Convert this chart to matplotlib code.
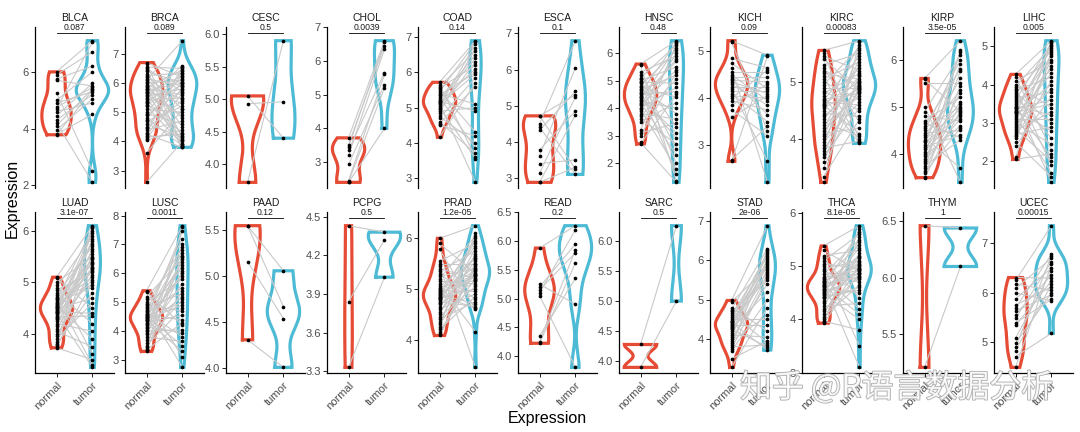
import numpy as np
import matplotlib
matplotlib.use("Agg")
import matplotlib.pyplot as plt
import matplotlib.patheffects as pe

plt.rcParams["font.family"] = ["Liberation Sans", "DejaVu Sans"]

NORMAL_RED = "#E64B35"
TUMOR_BLUE = "#4DBBD5"

# facet order, two rows of eleven
cancers = ["BLCA", "BRCA", "CESC", "CHOL", "COAD", "ESCA", "HNSC", "KICH", "KIRC", "KIRP", "LIHC",
           "LUAD", "LUSC", "PAAD", "PCPG", "PRAD", "READ", "SARC", "STAD", "THCA", "THYM", "UCEC"]
pvals = ["0.087", "0.089", "0.5", "0.0039", "0.14", "0.1", "0.48", "0.09", "0.00083", "3.5e-05", "0.005",
         "3.1e-07", "0.0011", "0.12", "0.5", "1.2e-05", "0.2", "0.5", "2e-06", "8.1e-05", "1", "0.00015"]
yticks = [["2", "4", "6"], ["3", "4", "5", "6", "7"], ["4.0", "4.5", "5.0", "5.5", "6.0"],
          ["3", "4", "5", "6", "7"], ["3", "4", "5", "6", "7"], ["3", "4", "5", "6", "7"],
          ["2", "3", "4", "5", "6"], ["3", "4", "5"], ["4", "5"], ["4", "5", "6"], ["2", "3", "4", "5"],
          ["4", "5", "6"], ["3", "4", "5", "6", "7", "8"], ["4.0", "4.5", "5.0", "5.5"],
          ["3.3", "3.6", "3.9", "4.2", "4.5"], ["4", "5", "6"], ["4.0", "4.5", "5.0", "5.5", "6.0", "6.5"],
          ["4.0", "4.5", "5.0", "5.5", "6.0"], ["4", "5", "6", "7"], ["3", "4", "5", "6"],
          ["5.5", "6.0", "6.5"], ["5", "6", "7"]]

# paired samples: normal[i] <-> tumor[i]
blca_n = [6.0, 5.9, 5.75, 5.7, 5.25, 5.0, 4.9, 4.75, 4.7, 4.6, 4.45, 4.3, 4.2, 4.1, 3.95, 3.8, 3.78]
blca_t = [7.1, 6.7, 6.2, 5.5, 2.5, 6.0, 5.3, 5.45, 7.05, 4.9, 5.6, 5.2, 2.1, 5.4, 5.05, 4.5, 5.35]

brca_n = [6.7, 6.65, 6.55, 6.5, 6.45, 6.4, 6.3, 6.25, 6.2, 6.15, 6.1, 6.05, 6.0, 5.95, 5.9, 5.85, 5.8,
          5.8, 5.75, 5.7, 5.7, 5.65, 5.6, 5.55, 5.5, 5.45, 5.4, 5.35, 5.3, 5.25, 5.2, 5.1, 5.0, 4.95,
          4.9, 4.8, 4.75, 4.7, 4.6, 4.5, 4.45, 4.4, 4.3, 4.25, 4.2, 4.15, 4.1, 4.05, 3.6, 2.6]
brca_t = [6.2, 4.1, 6.5, 5.7, 3.9, 6.0, 5.1, 6.35, 4.5, 5.9, 7.45, 3.85, 6.1, 5.45, 4.8, 6.45, 5.6,
          4.2, 6.0, 5.3, 3.8, 6.25, 4.9, 5.8, 6.6, 4.05, 5.5, 6.15, 4.3, 5.95, 3.9, 5.0, 6.4, 4.6,
          5.75, 3.85, 6.3, 5.2, 4.15, 6.05, 5.4, 4.7, 6.55, 3.8, 5.85, 4.25, 5.65, 4.4, 5.1, 4.0]

cesc_n = [5.05, 4.93, 3.72]
cesc_t = [4.4, 4.96, 5.9]

chol_n = [3.72, 3.52, 3.45, 3.35, 3.2, 2.93, 2.45, 2.42, 2.4]
chol_t = [6.6, 6.45, 6.55, 5.65, 6.35, 5.3, 5.6, 5.2, 4.0]

coad_n = [5.72, 5.65, 5.6, 5.55, 5.5, 5.45, 5.4, 5.35, 5.3, 5.25, 5.2, 5.18, 5.15, 5.12, 5.1, 5.05,
          5.0, 4.95, 4.9, 4.85, 4.75, 4.7, 4.6, 4.55, 4.5, 4.17]
coad_t = [6.9, 3.6, 6.6, 6.2, 4.3, 6.85, 5.1, 6.0, 3.85, 6.5, 6.4, 4.9, 6.1, 2.88, 5.95, 6.8, 3.55,
          6.3, 5.0, 6.7, 4.0, 5.85, 3.7, 5.6, 4.2, 5.7]

esca_n = [4.72, 4.72, 4.5, 4.4, 4.32, 3.78, 3.62, 3.4, 3.13, 2.88, 2.88]
esca_t = [5.3, 3.25, 6.8, 3.1, 5.4, 4.85, 6.05, 3.5, 5.25, 4.75, 3.3]

hnsc_n = [5.6, 5.55, 5.3, 5.2, 5.1, 5.05, 5.0, 4.95, 4.9, 4.8, 4.75, 4.7, 4.65, 4.6, 4.55, 4.5, 4.45,
          4.4, 4.35, 4.3, 4.25, 4.2, 4.1, 4.0, 3.95, 3.9, 3.8, 3.7, 3.6, 3.5, 3.2, 3.1, 3.0, 2.75,
          2.7, 4.15]
hnsc_t = [6.45, 1.35, 5.9, 3.3, 6.3, 2.5, 5.5, 4.9, 2.0, 6.1, 4.4, 3.8, 5.2, 1.6, 6.4, 4.6, 2.9, 5.7,
          3.1, 6.2, 4.0, 2.3, 5.4, 4.75, 1.8, 6.0, 3.6, 5.05, 2.7, 4.2, 6.35, 3.45, 5.3, 1.3, 4.5, 5.8]

kich_n = [5.23, 5.2, 4.85, 4.75, 4.65, 4.55, 4.5, 4.45, 4.4, 4.38, 4.35, 4.3, 4.25, 4.2, 4.15, 4.1,
          4.05, 4.0, 3.95, 3.85, 3.75, 3.6, 2.68, 2.65]
kich_t = [4.92, 3.3, 4.65, 4.2, 2.2, 4.55, 3.95, 4.45, 3.65, 4.35, 4.1, 3.85, 4.25, 2.65, 4.15, 3.5,
          4.0, 4.6, 3.75, 4.3, 3.2, 4.05, 3.4, 4.9]

kirc_n = [5.55, 5.5, 5.45, 5.4, 5.3, 5.25, 5.2, 5.15, 5.1, 5.05, 5.0, 4.95, 4.9, 4.85, 4.8, 4.75, 4.7,
          4.68, 4.65, 4.62, 4.6, 4.58, 4.55, 4.5, 4.45, 4.4, 4.35, 4.3, 4.25, 4.2, 4.15, 4.1, 4.05,
          4.0, 3.95, 3.9, 3.85, 3.8, 3.75, 3.7, 3.6, 3.5, 3.35, 3.25]
kirc_t = [5.72, 4.0, 5.2, 4.85, 5.5, 4.3, 4.95, 5.05, 3.95, 5.35, 4.7, 5.6, 4.9, 4.5, 5.15, 3.93,
          4.8, 5.45, 4.6, 5.0, 4.1, 5.25, 4.88, 5.65, 4.4, 4.92, 5.1, 4.05, 4.75, 5.3, 4.82, 4.2,
          5.4, 4.98, 4.65, 5.55, 3.97, 4.87, 5.02, 4.55, 5.12, 4.93, 4.35, 5.7]

kirp_n = [5.6, 5.58, 5.5, 5.0, 4.9, 4.8, 4.7, 4.65, 4.6, 4.55, 4.5, 4.45, 4.4, 4.35, 4.3, 4.28, 4.25,
          4.2, 4.15, 4.1, 4.05, 4.0, 3.95, 3.9, 3.85, 3.8, 3.75, 3.7, 3.65, 3.6, 3.52, 3.5]
kirp_t = [6.4, 4.9, 5.5, 3.4, 6.1, 4.7, 5.2, 4.35, 5.8, 5.0, 6.0, 4.5, 5.35, 3.7, 4.95, 5.6, 4.8,
          6.15, 4.4, 5.1, 4.85, 5.9, 4.6, 5.3, 4.75, 5.75, 4.3, 5.05, 6.2, 4.55, 5.45, 4.92]

lihc_n = [4.27, 4.2, 4.1, 4.0, 3.95, 3.9, 3.85, 3.8, 3.75, 3.7, 3.65, 3.6, 3.55, 3.5, 3.45, 3.42, 3.4,
          3.38, 3.35, 3.32, 3.3, 3.28, 3.25, 3.2, 3.15, 3.1, 3.05, 3.0, 2.95, 2.9, 2.85, 2.8, 2.75,
          2.7, 2.65, 2.6, 2.5, 2.4, 2.1, 2.05]
lihc_t = [5.15, 2.3, 4.6, 3.4, 5.0, 1.9, 4.2, 3.0, 4.9, 2.6, 3.8, 5.1, 1.45, 4.4, 3.2, 4.75, 2.1, 3.6,
          4.95, 2.8, 4.0, 3.5, 5.05, 1.7, 4.3, 3.1, 4.8, 2.45, 3.9, 4.5, 2.0, 3.3, 4.65, 2.9, 4.1,
          5.12, 1.6, 3.7, 4.85, 2.2]

luad_n = [5.1, 5.08, 5.0, 4.95, 4.9, 4.85, 4.8, 4.75, 4.72, 4.7, 4.65, 4.62, 4.6, 4.57, 4.55, 4.52,
          4.5, 4.48, 4.45, 4.42, 4.4, 4.38, 4.35, 4.32, 4.3, 4.25, 4.2, 4.15, 4.1, 4.05, 4.0, 3.95,
          3.9, 3.85, 3.8, 3.78, 3.75, 3.73, 4.58, 4.47, 4.43, 4.53, 4.68, 4.28]
luad_t = [6.1, 4.5, 5.5, 3.6, 5.9, 5.2, 4.2, 5.7, 5.35, 3.4, 6.05, 4.9, 5.45, 5.1, 3.9, 5.8, 5.25,
          4.7, 6.0, 5.4, 3.35, 5.6, 5.3, 4.35, 5.95, 5.05, 4.05, 5.65, 5.15, 3.75, 5.85, 5.28, 4.6,
          5.55, 4.8, 6.08, 5.0, 3.5, 5.75, 5.38, 4.4, 5.22, 4.95, 5.48]

lusc_n = [5.4, 5.35, 5.2, 5.1, 5.0, 4.95, 4.9, 4.85, 4.8, 4.75, 4.7, 4.65, 4.6, 4.58, 4.55, 4.52, 4.5,
          4.48, 4.45, 4.42, 4.4, 4.38, 4.35, 4.3, 4.25, 4.2, 4.15, 4.1, 4.05, 4.0, 3.95, 3.9, 3.8,
          3.7, 3.6, 3.5, 3.45, 3.4, 3.35, 3.3]
lusc_t = [7.65, 4.2, 6.5, 3.1, 5.8, 6.9, 4.7, 5.3, 2.75, 6.2, 7.2, 3.8, 5.5, 6.7, 4.4, 5.0, 3.5, 6.4,
          7.45, 4.9, 5.9, 3.3, 6.0, 4.55, 6.8, 5.2, 3.95, 6.3, 7.0, 4.05, 5.65, 6.55, 3.65, 5.1, 6.1,
          4.8, 5.4, 7.6, 4.3, 6.6]

paad_n = [5.55, 5.55, 5.16, 4.31]
paad_t = [5.06, 4.67, 4.54, 4.01]

pcpg_n = [4.43, 3.84, 3.33]
pcpg_t = [4.38, 4.32, 4.03]

prad_n = [6.0, 5.9, 5.78, 5.55, 5.5, 5.45, 5.4, 5.35, 5.3, 5.25, 5.2, 5.15, 5.1, 5.05, 5.0, 4.97,
          4.95, 4.92, 4.9, 4.88, 4.85, 4.82, 4.8, 4.78, 4.75, 4.72, 4.7, 4.65, 4.6, 4.55, 4.5, 4.45,
          4.4, 4.35, 4.3, 4.25, 4.2, 4.15, 4.1, 4.08, 4.87, 4.93, 4.83, 5.02]
prad_t = [6.25, 5.3, 4.6, 5.9, 5.5, 3.45, 5.2, 5.75, 4.8, 5.4, 6.05, 5.1, 4.15, 5.6, 5.35, 4.95,
          5.85, 5.25, 4.7, 5.45, 6.0, 5.0, 5.65, 5.28, 4.65, 5.95, 5.15, 5.55, 4.9, 5.38, 5.8, 5.05,
          4.75, 5.7, 5.32, 6.1, 4.85, 5.22, 5.5, 5.42, 4.62, 5.18, 5.62, 5.27]

read_n = [5.88, 5.25, 5.2, 5.15, 5.1, 5.05, 4.35, 4.25, 4.22]
read_t = [6.27, 4.9, 5.95, 5.8, 6.2, 3.8, 5.35, 5.85, 5.62]

sarc_n = [4.28, 3.9]
sarc_t = [6.25, 5.0]

stad_n = [4.98, 4.95, 4.8, 4.75, 4.7, 4.65, 4.6, 4.55, 4.5, 4.47, 4.45, 4.42, 4.4, 4.38, 4.35, 4.32,
          4.3, 4.27, 4.25, 4.2, 4.15, 4.1, 4.05, 4.0, 3.95, 3.9, 3.85, 3.8, 3.75, 3.7, 3.5, 3.28]
stad_t = [6.88, 5.8, 4.2, 6.3, 5.5, 3.9, 6.1, 5.9, 4.5, 6.2, 5.7, 3.72, 6.0, 5.6, 4.35, 5.85, 6.15,
          5.2, 3.8, 5.95, 5.75, 4.05, 6.25, 5.4, 4.6, 5.65, 6.05, 3.85, 5.55, 5.0, 3.95, 4.8]

thca_n = [5.38, 5.3, 5.2, 5.15, 5.1, 5.05, 5.0, 4.95, 4.9, 4.85, 4.8, 4.78, 4.75, 4.72, 4.7, 4.68,
          4.65, 4.62, 4.6, 4.58, 4.55, 4.52, 4.5, 4.48, 4.45, 4.42, 4.4, 4.35, 4.3, 4.25, 4.2, 4.15,
          4.1, 4.05, 4.0, 3.97, 3.95, 3.93, 4.63, 4.57, 4.67, 4.53, 4.73, 4.43]
thca_t = [5.76, 4.9, 5.3, 4.4, 5.6, 4.95, 3.5, 5.1, 4.7, 5.5, 4.85, 4.2, 5.4, 5.0, 3.1, 5.2, 4.8,
          5.65, 4.92, 4.5, 5.05, 4.75, 5.35, 4.0, 4.88, 5.15, 4.6, 5.45, 4.97, 4.3, 5.7, 4.82, 5.25,
          4.65, 5.02, 3.8, 5.55, 4.87, 4.1, 5.08, 4.78, 5.18, 4.94, 4.55]

thym_n = [6.46, 5.21]
thym_t = [6.44, 6.1]

ucec_n = [6.31, 6.25, 6.18, 6.09, 6.0, 5.88, 5.75, 5.69, 5.63, 5.56, 5.48, 5.39, 5.34, 5.08, 4.98,
          4.9, 4.83, 4.71, 4.49]
ucec_t = [6.3, 7.36, 6.05, 6.7, 5.84, 6.5, 6.12, 6.78, 5.96, 6.36, 6.63, 5.87, 6.24, 6.44, 6.0,
          6.75, 6.17, 5.18, 6.58]

normal = dict(zip(cancers, [blca_n, brca_n, cesc_n, chol_n, coad_n, esca_n, hnsc_n, kich_n, kirc_n,
                            kirp_n, lihc_n, luad_n, lusc_n, paad_n, pcpg_n, prad_n, read_n, sarc_n,
                            stad_n, thca_n, thym_n, ucec_n]))
tumor = dict(zip(cancers, [blca_t, brca_t, cesc_t, chol_t, coad_t, esca_t, hnsc_t, kich_t, kirc_t,
                           kirp_t, lihc_t, luad_t, lusc_t, paad_t, pcpg_t, prad_t, read_t, sarc_t,
                           stad_t, thca_t, thym_t, ucec_t]))


def density(vals, n_grid=512):
    """gaussian KDE with R's bw.nrd0, trimmed to the data range (like geom_violin)"""
    v = np.asarray(vals, float)
    n = len(v)
    sd = v.std(ddof=1)
    q75, q25 = np.percentile(v, [75, 25])
    lo = min(sd, (q75 - q25) / 1.34)
    if lo <= 0:
        lo = sd if sd > 0 else 1.0
    bw = 0.9 * lo * n ** -0.2
    y = np.linspace(v.min(), v.max(), n_grid)
    d = np.exp(-0.5 * ((y[:, None] - v[None, :]) / bw) ** 2).sum(axis=1) / (n * bw * np.sqrt(2 * np.pi))
    return y, d


def draw_panel(ax, name, pval, ticks, bottom_row):
    nv, tv = normal[name], tumor[name]
    dens = [density(nv), density(tv)]
    dmax = max(d.max() for _, d in dens)   # scale="area": shared max within a panel
    for k, ((y, d), col) in enumerate(zip(dens, [NORMAL_RED, TUMOR_BLUE])):
        x0 = k + 1
        w = d / dmax * 0.45
        xs = np.concatenate([x0 - w, (x0 + w)[::-1], [x0 - w[0]]])
        ys = np.concatenate([y, y[::-1], [y[0]]])
        ax.plot(xs, ys, color=col, lw=2.3, solid_joinstyle="miter", zorder=1)
    for a, b in zip(nv, tv):
        ax.plot([1, 2], [a, b], color="#C9C9C9", lw=0.8, zorder=2)
    ax.scatter(np.ones(len(nv)), nv, s=7, c="black", linewidths=0, zorder=3)
    ax.scatter(np.full(len(tv), 2), tv, s=7, c="black", linewidths=0, zorder=3)

    # bracket + p-value above the data
    lo, hi = min(min(nv), min(tv)), max(max(nv), max(tv))
    span = (hi - lo) / 0.88
    yb = hi + 0.05 * span
    ax.plot([1, 2], [yb, yb], color="black", lw=0.6, zorder=4)
    ax.text(1.5, yb + 0.004 * span, pval, ha="center", va="bottom", fontsize=6.2, color="#1A1A1A")
    ax.set_ylim(lo - 0.035 * span, hi + 0.085 * span)
    ax.set_xlim(0.4, 2.6)

    ax.set_yticks([float(t) for t in ticks])
    ax.set_yticklabels(ticks)
    ax.tick_params(axis="y", length=3, width=0.6, colors="black", labelcolor="#4D4D4D",
                   labelsize=8, pad=1.5)
    for s in ("top", "right"):
        ax.spines[s].set_visible(False)
    ax.spines["left"].set_linewidth(0.9)
    if bottom_row:
        ax.set_xticks([1, 2])
        ax.set_xticklabels(["normal", "tumor"], rotation=45, ha="right", va="top",
                           rotation_mode="anchor")
        ax.tick_params(axis="x", length=3, width=0.6, labelcolor="#4D4D4D", labelsize=8, pad=2)
        ax.spines["bottom"].set_linewidth(0.9)
    else:
        ax.set_xticks([])
        ax.spines["bottom"].set_visible(False)
    ax.set_title(name, fontsize=7.5, pad=4.5, color="#1A1A1A")


fig = plt.figure(figsize=(10.8, 4.32), dpi=100)
W, H = 1080.0, 432.0
lefts = [35, 125, 226, 327, 418, 518, 619, 710, 802, 903, 994]
panel_w = 79
row_bottoms = [188, 373]
panel_h = 161

for i, name in enumerate(cancers):
    row, col = divmod(i, 11)
    ax = fig.add_axes([lefts[col] / W, 1 - row_bottoms[row] / H, panel_w / W, panel_h / H])
    draw_panel(ax, name, pvals[i], yticks[i], row == 1)

fig.text(12 / W, 1 - 198 / H, "Expression", rotation=90, ha="center", va="center", fontsize=11.5)
fig.text(547 / W, 1 - 418 / H, "Expression", ha="center", va="center", fontsize=11.5)

# zhihu watermark
fig.text(740 / W, 1 - 388 / H, "知乎 @R语言数据分析", fontsize=23, color="white", alpha=0.85,
         family=["Noto Sans CJK SC", "DejaVu Sans"], ha="left", va="center",
         path_effects=[pe.withStroke(linewidth=1.2, foreground="#A0A0A0")])

fig.savefig("out.png", dpi=100)
